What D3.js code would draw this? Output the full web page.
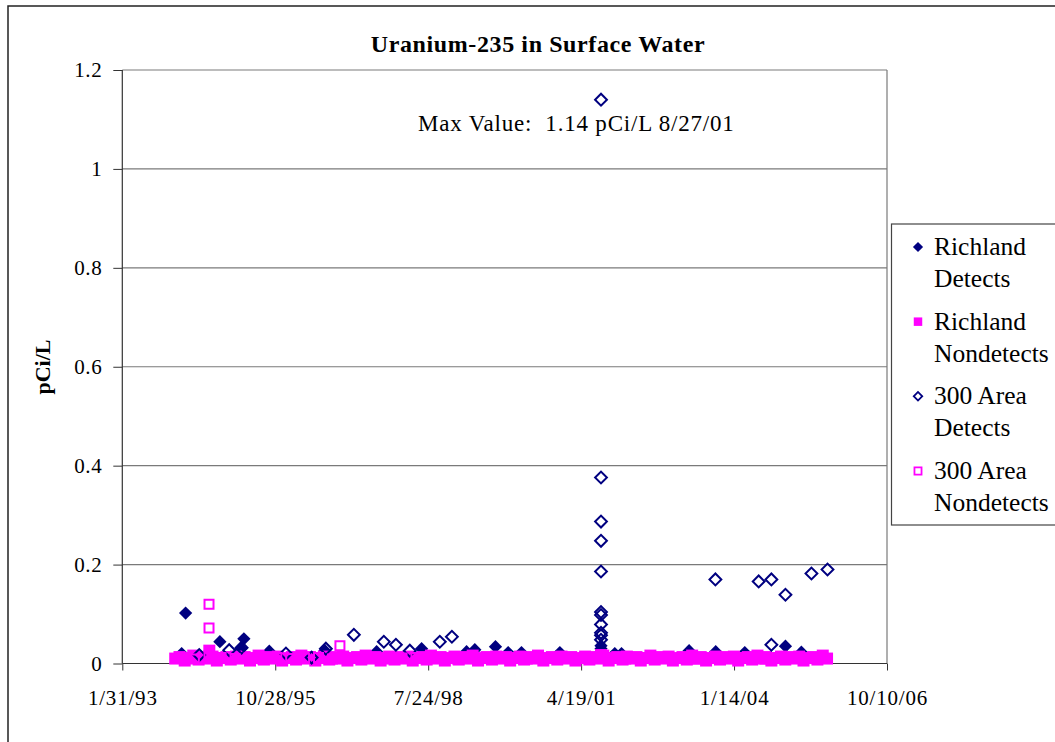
<!DOCTYPE html>
<html><head><meta charset="utf-8">
<script src="https://cdn.jsdelivr.net/npm/d3@7"></script>
<style>body{margin:0;background:#fff}svg{display:block}</style>
</head><body>
<svg id="c" width="1055" height="742"></svg>
<script>
// ---------- DATA ----------
const chartTitle = "Uranium-235 in Surface Water";
const yAxisTitle = "pCi/L";
const annotationText = "Max Value:  1.14 pCi/L 8/27/01";
const xTickLabels = ["1/31/93","10/28/95","7/24/98","4/19/01","1/14/04","10/10/06"];
const yTickValues = [0,0.2,0.4,0.6,0.8,1,1.2];
const yTickLabels = ["0","0.2","0.4","0.6","0.8","1","1.2"];
const seriesNames = [["Richland","Detects"],["Richland","Nondetects"],["300 Area","Detects"],["300 Area","Nondetects"]];

const richlandDetects = [
["1994-02-23",0.020],["1994-03-21",0.102],["1994-10-31",0.044],["1995-03-18",0.030],["1995-04-06",0.050],
["1995-09-19",0.025],["1996-09-17",0.026],["1997-08-21",0.024],["1998-06-11",0.030],["1999-04-01",0.024],
["1999-05-25",0.028],["1999-10-07",0.034],["1999-12-29",0.022],["2000-03-25",0.022],["2000-12-01",0.022],
["2001-08-27",0.036],["2001-08-27",0.030],["2001-08-27",0.024],["2001-11-25",0.020],["2002-01-08",0.020],
["2003-03-26",0.026],["2003-09-16",0.024],["2004-03-24",0.022],["2004-12-15",0.035],["2005-03-29",0.023]
];

const richlandNondetects = [
["1994-01-12",.010],["1994-02-09",.013],["1994-03-15",.006],["1994-04-12",.011],["1994-05-10",.016],["1994-06-14",.008],
["1994-07-12",.013],["1994-08-16",.010],["1994-08-23",.026],["1994-09-13",.014],["1994-10-11",.006],["1994-11-15",.011],["1994-12-13",.013],
["1995-01-10",.008],["1995-02-14",.014],["1995-03-14",.010],["1995-04-11",.013],["1995-05-16",.006],["1995-06-13",.011],
["1995-07-11",.016],["1995-08-15",.008],["1995-09-12",.013],["1995-10-10",.010],["1995-11-14",.014],["1995-12-12",.006],
["1996-01-16",.011],["1996-02-13",.013],["1996-03-12",.008],["1996-04-16",.016],["1996-05-14",.010],["1996-06-11",.013],
["1996-07-16",.006],["1996-08-13",.011],["1996-09-10",.014],["1996-10-15",.008],["1996-11-12",.013],["1996-12-10",.010],
["1997-01-14",.014],["1997-02-11",.006],["1997-03-11",.011],["1997-04-15",.013],["1997-05-13",.008],["1997-06-10",.016],
["1997-07-15",.010],["1997-08-12",.013],["1997-09-16",.006],["1997-10-14",.011],["1997-11-11",.014],["1997-12-16",.008],
["1998-01-13",.013],["1998-02-10",.010],["1998-03-17",.014],["1998-04-14",.006],["1998-05-12",.011],["1998-06-16",.013],
["1998-07-14",.008],["1998-08-11",.016],["1998-09-15",.010],["1998-10-13",.013],["1998-11-10",.006],["1998-12-15",.011],
["1999-01-12",.014],["1999-02-09",.008],["1999-03-16",.013],["1999-04-13",.010],["1999-05-11",.016],["1999-06-15",.006],
["1999-07-13",.011],["1999-08-10",.013],["1999-09-14",.008],["1999-10-12",.014],["1999-11-16",.010],["1999-12-14",.013],
["2000-01-11",.006],["2000-02-15",.011],["2000-03-14",.014],["2000-04-11",.008],["2000-05-16",.013],["2000-06-13",.010],
["2000-07-11",.016],["2000-08-15",.006],["2000-09-12",.011],["2000-10-10",.013],["2000-11-14",.008],["2000-12-12",.014],
["2001-01-16",.010],["2001-02-13",.013],["2001-03-13",.006],["2001-04-17",.011],["2001-05-15",.014],["2001-06-12",.008],
["2001-07-17",.013],["2001-08-14",.010],["2001-08-27",.017],["2001-09-11",.016],["2001-10-16",.006],["2001-11-13",.011],["2001-12-11",.013],
["2002-01-15",.008],["2002-02-12",.014],["2002-03-12",.010],["2002-04-16",.013],["2002-05-14",.006],["2002-06-11",.011],
["2002-07-16",.016],["2002-08-13",.008],["2002-09-10",.013],["2002-10-15",.010],["2002-11-12",.014],["2002-12-10",.006],
["2003-01-14",.011],["2003-02-11",.013],["2003-03-11",.008],["2003-04-15",.016],["2003-05-13",.010],["2003-06-10",.013],
["2003-07-15",.006],["2003-08-12",.011],["2003-09-16",.014],["2003-10-14",.008],["2003-11-11",.013],["2003-12-16",.010],
["2004-01-13",.014],["2004-02-10",.006],["2004-03-16",.011],["2004-04-13",.013],["2004-05-11",.008],["2004-06-15",.016],
["2004-07-13",.010],["2004-08-10",.013],["2004-09-14",.006],["2004-10-12",.011],["2004-11-16",.014],["2004-12-14",.008],
["2005-01-11",.013],["2005-02-15",.010],["2005-03-15",.014],["2005-04-12",.006],["2005-05-10",.011],["2005-06-14",.013],
["2005-07-12",.008],["2005-08-16",.016],["2005-09-13",.010]
];

const area300Detects = [
["1994-06-18",0.017],["1994-12-31",0.027],["1995-03-22",0.032],["1996-01-06",0.020],["1996-06-22",0.012],
["1996-09-23",0.030],["1997-03-25",0.058],["1997-10-07",0.044],["1997-12-25",0.038],["1998-03-26",0.026],
["1998-10-08",0.044],["1998-12-26",0.054],
["2001-08-27",1.14],["2001-08-27",0.376],["2001-08-27",0.287],["2001-08-27",0.248],["2001-08-27",0.186],
["2001-08-27",0.104],["2001-08-27",0.098],["2001-08-27",0.079],["2001-08-27",0.062],["2001-08-27",0.057],["2001-08-27",0.048],
["2003-09-14",0.170],["2004-06-23",0.166],["2004-09-14",0.170],["2004-09-14",0.038],["2004-12-15",0.139],
["2005-06-03",0.182],["2005-09-16",0.190]
];

const area300Nondetects = [
["1994-03-08",.011],["1994-05-17",.009],["1994-08-21",.120],["1994-08-21",.072],["1994-08-21",.016],["1994-11-08",.012],
["1995-02-07",.010],["1995-05-09",.011],["1995-08-08",.009],["1995-11-07",.012],["1996-02-06",.010],["1996-05-07",.011],
["1996-08-06",.012],["1996-11-05",.009],["1996-12-24",.036],["1997-02-04",.011],["1997-05-06",.010],["1997-08-05",.012],
["1997-11-04",.009],["1998-02-03",.011],["1998-05-05",.012],["1998-08-04",.010],["1998-11-03",.011],["1999-02-02",.009],
["1999-05-04",.012],["1999-08-03",.010],["1999-11-02",.011],["2000-02-01",.012],["2000-05-02",.009],["2000-08-01",.011],
["2000-10-31",.010],["2001-02-06",.012],["2001-05-08",.011],["2001-08-27",.012],["2001-11-06",.010],["2002-02-05",.009],
["2002-05-07",.012],["2002-08-06",.011],["2002-11-05",.010],["2003-02-04",.012],["2003-05-06",.009],["2003-08-05",.011],
["2003-11-04",.010],["2004-02-03",.012],["2004-05-04",.011],["2004-08-03",.009],["2004-11-02",.012],["2005-02-01",.010],
["2005-05-03",.011],["2005-08-02",.012]
];

// ---------- DRAW ----------
const FONT = "'Liberation Serif','Times New Roman',serif";
const NAVY = "#000080", MAG = "#FF00FF";
const svg = d3.select("#c");
const parse = d3.utcParse("%Y-%m-%d");
const parseTick = d3.utcParse("%m/%d/%y");
const xTickDates = xTickLabels.map(parseTick);

const L = 122.3, R = 887, T = 70, B = 663.5;
const x = d3.scaleUtc().domain([xTickDates[0], xTickDates[xTickDates.length-1]]).range([L, R]);
const y = d3.scaleLinear().domain([0, 1.2]).range([B, T]);

// outer border
svg.append("rect").attr("x",8).attr("y",6).attr("width",1100).attr("height",800)
  .attr("fill","#fff").attr("stroke","#222").attr("stroke-width",1.5);

// gridlines
svg.append("g").selectAll("line").data(yTickValues.filter(v=>v>0)).join("line")
  .attr("x1",L).attr("x2",R).attr("y1",d=>y(d)).attr("y2",d=>y(d))
  .attr("stroke","#7a7a7a").attr("stroke-width",1.2);
svg.append("line").attr("x1",R).attr("x2",R).attr("y1",T).attr("y2",B).attr("stroke","#7a7a7a").attr("stroke-width",1.2);

// axes
const yAxis = d3.axisLeft(y).tickValues(yTickValues).tickSize(9).tickPadding(11)
  .tickFormat((d,i)=>yTickLabels[i]);
const gy = svg.append("g").attr("transform",`translate(${L},0)`).call(yAxis);
gy.select(".domain").remove();
gy.selectAll(".tick line").attr("stroke","#333");
gy.selectAll("text").attr("font-family",FONT).attr("font-size",21).attr("fill","#000").attr("letter-spacing",0.6);

const xAxis = d3.axisBottom(x).tickValues(xTickDates).tickSize(7).tickPadding(20)
  .tickFormat((d,i)=>xTickLabels[i]);
const gx = svg.append("g").attr("transform",`translate(0,${B})`).call(xAxis);
gx.select(".domain").remove();
gx.selectAll(".tick line").attr("stroke","#333");
gx.selectAll("text").attr("font-family",FONT).attr("font-size",21).attr("fill","#000").attr("letter-spacing",0.8);

svg.append("line").attr("x1",L).attr("x2",L).attr("y1",T).attr("y2",B).attr("stroke","#333").attr("stroke-width",1.2);
svg.append("line").attr("x1",L).attr("x2",R).attr("y1",B).attr("y2",B).attr("stroke","#333").attr("stroke-width",1.2);

// markers
const sq = a => d3.symbol(d3.symbolSquare, a)();
const styles = [
  {data: richlandDetects, path: sq(88), rot: 45, fill: NAVY, stroke: "none", sw: 0},
  {data: richlandNondetects, path: sq(144), rot: 0, fill: MAG, stroke: "none", sw: 0},
  {data: area300Detects, path: sq(70), rot: 45, fill: "none", stroke: NAVY, sw: 2},
  {data: area300Nondetects, path: sq(81), rot: 0, fill: "none", stroke: MAG, sw: 2}
];
styles.forEach(s => {
  svg.append("g").selectAll("path").data(s.data).join("path")
    .attr("d", s.path)
    .attr("transform", d => `translate(${x(parse(d[0]))},${y(d[1])}) rotate(${s.rot})`)
    .attr("fill", s.fill).attr("stroke", s.stroke).attr("stroke-width", s.sw);
});

// titles
svg.append("text").attr("x",538).attr("y",52).attr("text-anchor","middle")
  .attr("font-family",FONT).attr("font-weight","bold").attr("font-size",24).attr("letter-spacing",0.6)
  .text(chartTitle);
svg.append("text").attr("transform","translate(50,367) rotate(-90)").attr("text-anchor","middle")
  .attr("font-family",FONT).attr("font-weight","bold").attr("font-size",22)
  .text(yAxisTitle);
svg.append("text").attr("x",418).attr("y",131)
  .attr("font-family",FONT).attr("font-size",23).attr("letter-spacing",0.8)
  .style("white-space","pre").text(annotationText);

// legend
const lg = svg.append("g");
lg.append("rect").attr("x",891.5).attr("y",224).attr("width",220).attr("height",301)
  .attr("fill","#fff").attr("stroke","#444").attr("stroke-width",1.2);
const legendMarks = [
  {path: sq(52), rot: 45, fill: NAVY, stroke: "none", sw: 0},
  {path: sq(72), rot: 0, fill: MAG, stroke: "none", sw: 0},
  {path: sq(36), rot: 45, fill: "none", stroke: NAVY, sw: 1.8},
  {path: sq(50), rot: 0, fill: "none", stroke: MAG, sw: 1.8}
];
const legY = d3.scalePoint().domain(d3.range(seriesNames.length)).range([247, 471]);
seriesNames.forEach((nm, i) => {
  const m = legendMarks[i];
  lg.append("path").attr("d", m.path)
    .attr("transform", `translate(918,${legY(i)}) rotate(${m.rot})`)
    .attr("fill", m.fill).attr("stroke", m.stroke).attr("stroke-width", m.sw);
  const t = lg.append("text").attr("font-family",FONT).attr("font-size",25.5);
  nm.forEach((line, j) => {
    t.append("tspan").attr("x",934).attr("y", legY(i) + 8 + j*32).text(line);
  });
});
</script>
</body></html>
